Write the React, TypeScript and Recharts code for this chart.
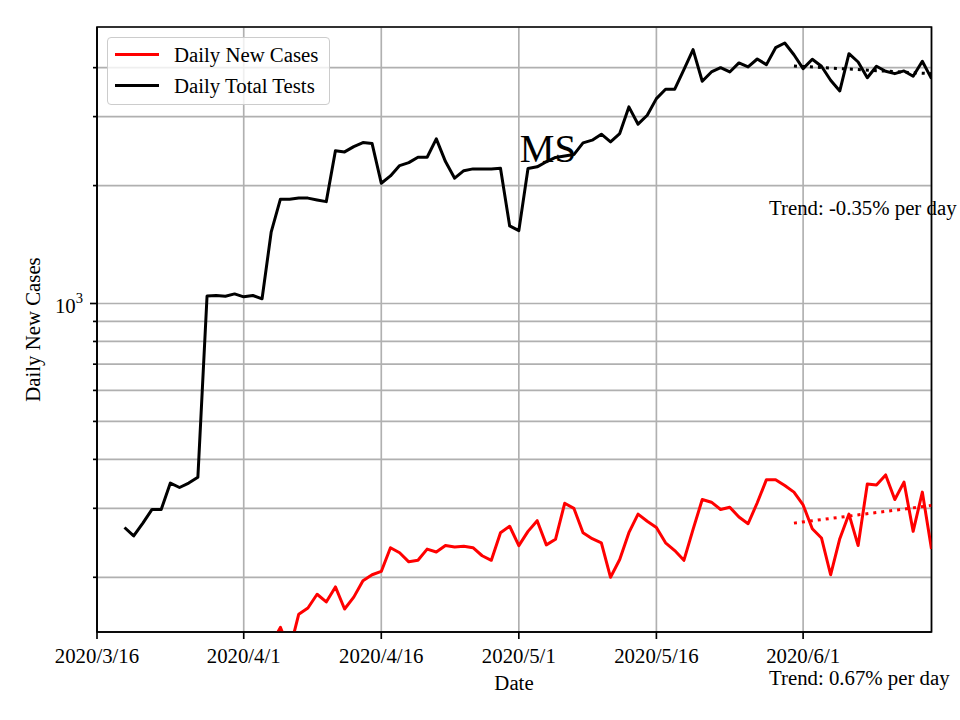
import React from 'react';
import { LineChart, Line, XAxis, YAxis, CartesianGrid, Legend, ReferenceArea } from 'recharts';

// ---------- data ----------
const START_DATE = '2020/3/16';
const END_DATE = '2020/6/15';
const X_TICK_LABELS = ['2020/3/16', '2020/4/1', '2020/4/16', '2020/5/1', '2020/5/16', '2020/6/1'];
const Y_TICKS = [200, 300, 400, 500, 600, 700, 800, 900, 1000, 2000, 3000, 4000];
const Y_DOMAIN = [145, 5080];

const TESTS_START = '2020/3/19';
const DAILY_TOTAL_TESTS = [
  268, 255, 275, 298, 298, 348, 339, 348, 360, 1045, 1048, 1044, 1058, 1040, 1048, 1028,
  1524, 1846, 1846, 1858, 1858, 1838, 1820, 2453, 2438, 2515, 2575, 2560, 2028, 2117, 2249,
  2289, 2363, 2363, 2631, 2303, 2089, 2183, 2206, 2206, 2206, 2215, 1578, 1535, 2210, 2233,
  2300, 2360, 2380, 2400, 2570, 2612, 2705, 2585, 2715, 3176, 2869, 3024, 3334, 3524, 3524,
  3953, 4446, 3692, 3900, 4000, 3900, 4113, 4017, 4209, 4072, 4498, 4624, 4316, 3977, 4203,
  4033, 3715, 3488, 4343, 4135, 3771, 4033, 3917, 3862, 3924, 3802, 4152, 3750,
];

const CASES_START = '2020/4/4';
const DAILY_NEW_CASES = [
  135, 149, 130, 161, 167, 181, 173, 189, 166, 178, 196, 203, 207, 238, 231, 219, 221, 236,
  232, 241, 239, 240, 238, 227, 221, 260, 270, 241, 262, 279, 242, 250, 309, 300, 260, 251,
  245, 200, 222, 260, 290, 278, 268, 245, 234, 221, 265, 316, 311, 298, 302, 285, 274, 310,
  355, 355, 343, 330, 306, 266, 252, 203, 251, 290, 241, 346, 344, 365, 316, 350, 262, 330, 236,
];

const TREND_DATES = ['2020/5/31', '2020/6/15'];
const TESTS_TREND = [4040, 3860];
const CASES_TREND = [275, 305];

const TESTS_TREND_LABEL = 'Trend: -0.35% per day';
const CASES_TREND_LABEL = 'Trend: 0.67% per day';
const TITLE = 'MS';

// ---------- helpers ----------
const toUTC = (s: string) => {
  const [y, m, d] = s.split('/').map(Number);
  return Date.UTC(y, m - 1, d);
};
const dayOf = (s: string) => Math.round((toUTC(s) - toUTC(START_DATE)) / 86400000);

const X_TICKS = X_TICK_LABELS.map(dayOf);
const X_DOMAIN = [0, dayOf(END_DATE)];

const testsData = DAILY_TOTAL_TESTS.map((v, i) => ({ day: dayOf(TESTS_START) + i, value: v }));
const casesData = DAILY_NEW_CASES.map((v, i) => ({ day: dayOf(CASES_START) + i, value: v }));
const testsTrendData = TREND_DATES.map((d, i) => ({ day: dayOf(d), value: TESTS_TREND[i] }));
const casesTrendData = TREND_DATES.map((d, i) => ({ day: dayOf(d), value: CASES_TREND[i] }));

const FONT = '"Liberation Serif", "DejaVu Serif", serif';
const FS = 20.8;
const GRID = '#b0b0b0';
const AXW = 1.67;

const XTick = (props: any) => {
  const { x, y, payload } = props;
  const idx = X_TICKS.indexOf(payload.value);
  const label = idx >= 0 ? X_TICK_LABELS[idx] : '';
  const axisY = y - 14;
  return (
    <g>
      <line x1={x} x2={x} y1={axisY} y2={axisY + 7} stroke="#000" strokeWidth={AXW} />
      <text x={x} y={y + 17} textAnchor="middle" fontFamily={FONT} fontSize={FS} fill="#000">
        {label}
      </text>
    </g>
  );
};

const YTick = (props: any) => {
  const { x, y, payload } = props;
  const axisX = x + 14;
  const major = payload.value === 1000;
  const len = major ? 7 : 4;
  return (
    <g>
      <line x1={axisX - len} x2={axisX} y1={y} y2={y} stroke="#000" strokeWidth={AXW} />
      {major && (
        <text x={x} y={y + 10} textAnchor="end" fontFamily={FONT} fontSize={FS} fill="#000">
          <tspan>10</tspan>
          <tspan dy={-10} fontSize={14.6}>3</tspan>
        </text>
      )}
    </g>
  );
};

const LegendBox = () => (
  <div
    style={{
      width: 223,
      height: 68,
      boxSizing: 'border-box',
      border: '1px solid #cccccc',
      borderRadius: 4,
      background: 'rgba(255,255,255,0.8)',
    }}
  >
    <svg width={221} height={66} style={{ display: 'block' }}>
      <line x1={7} x2={51} y1={16.5} y2={16.5} stroke="#ff0000" strokeWidth={3} />
      <text x={66} y={23.5} fontFamily={FONT} fontSize={FS} fill="#000">Daily New Cases</text>
      <line x1={7} x2={51} y1={47.5} y2={47.5} stroke="#000" strokeWidth={3} />
      <text x={66} y={54.5} fontFamily={FONT} fontSize={FS} fill="#000">Daily Total Tests</text>
    </svg>
  </div>
);

export default function App() {
  return (
    <div style={{ position: 'absolute', left: 0, top: 0, width: 960, height: 720, background: '#fff' }}>
      <LineChart
        width={960}
        height={720}
        margin={{ top: 27, right: 28.5, left: 0, bottom: 0 }}
        style={{ fontFamily: FONT }}
      >
        <CartesianGrid stroke={GRID} strokeWidth={AXW} />
        <XAxis
          type="number"
          dataKey="day"
          domain={X_DOMAIN}
          ticks={X_TICKS}
          interval={0}
          allowDataOverflow
          height={88}
          tickSize={7}
          tickMargin={7}
          tickLine={false}
          axisLine={{ stroke: '#000', strokeWidth: AXW }}
          tick={<XTick />}
        />
        <YAxis
          type="number"
          scale="log"
          domain={Y_DOMAIN}
          ticks={Y_TICKS}
          interval={0}
          allowDataOverflow
          width={97}
          tickSize={7}
          tickMargin={7}
          tickLine={false}
          axisLine={{ stroke: '#000', strokeWidth: AXW }}
          tick={<YTick />}
        />
        <Legend
          layout="horizontal"
          verticalAlign="middle"
          align="center"
          content={() => <LegendBox />}
          wrapperStyle={{ left: 107, top: 37, width: 223, height: 68 }}
        />
        <Line
          name="Daily New Cases"
          data={casesData}
          dataKey="value"
          stroke="#ff0000"
          strokeWidth={3}
          dot={false}
          activeDot={false}
          isAnimationActive={false}
          strokeLinejoin="round"
        />
        <Line
          name="Daily Total Tests"
          data={testsData}
          dataKey="value"
          stroke="#000000"
          strokeWidth={3}
          dot={false}
          activeDot={false}
          isAnimationActive={false}
          strokeLinejoin="round"
        />
        <Line
          name="tests trend"
          data={testsTrendData}
          dataKey="value"
          stroke="#000000"
          strokeWidth={3}
          strokeDasharray="3 5"
          dot={false}
          activeDot={false}
          legendType="none"
          isAnimationActive={false}
        />
        <Line
          name="cases trend"
          data={casesTrendData}
          dataKey="value"
          stroke="#ff0000"
          strokeWidth={3}
          strokeDasharray="3 5"
          dot={false}
          activeDot={false}
          legendType="none"
          isAnimationActive={false}
        />
        <ReferenceArea
          x1={X_DOMAIN[0]}
          x2={X_DOMAIN[1]}
          y1={Y_DOMAIN[0]}
          y2={Y_DOMAIN[1]}
          fill="none"
          fillOpacity={0}
          stroke="#000"
          strokeWidth={AXW}
          ifOverflow="visible"
        />
        <text x={548} y={162} textAnchor="middle" fontFamily={FONT} fontSize={39} fill="#000">
          {TITLE}
        </text>
        <text x={769} y={215} fontFamily={FONT} fontSize={FS} fill="#000">
          {TESTS_TREND_LABEL}
        </text>
        <text x={769} y={685} fontFamily={FONT} fontSize={FS} fill="#000">
          {CASES_TREND_LABEL}
        </text>
        <text x={514} y={690} textAnchor="middle" fontFamily={FONT} fontSize={FS} fill="#000">
          Date
        </text>
        <text
          x={40}
          y={329.5}
          textAnchor="middle"
          transform="rotate(-90 40 329.5)"
          fontFamily={FONT}
          fontSize={FS}
          fill="#000"
        >
          Daily New Cases
        </text>
      </LineChart>
    </div>
  );
}
